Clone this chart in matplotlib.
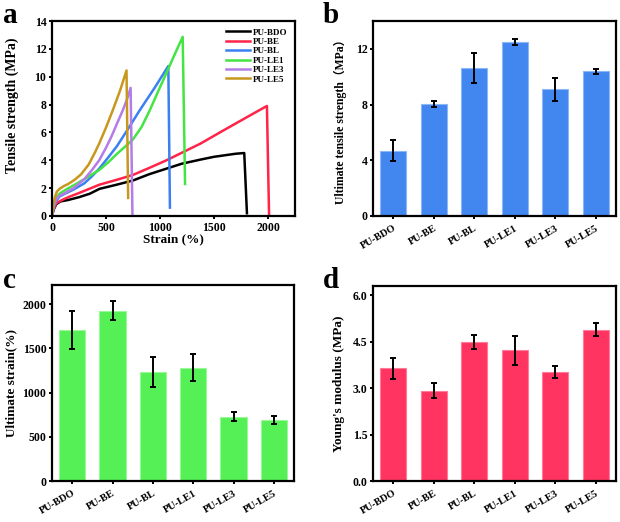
import matplotlib
matplotlib.use("Agg")
import matplotlib.pyplot as plt
import numpy as np

plt.rcParams['font.family'] = ['Liberation Serif', 'Noto Sans CJK SC']
plt.rcParams['font.weight'] = 'bold'
plt.rcParams['axes.labelweight'] = 'bold'

# Données des courbes contrainte-déformation (panneau a)
noms = ["PU-BDO", "PU-BE", "PU-BL", "PU-LE1", "PU-LE3", "PU-LE5"]
couleurs_a = ["#000000", "#FF2448", "#3A80F0", "#44E444", "#B47CE6", "#C8981E"]

strain_bdo = [0, 15, 40, 80, 150, 250, 350, 440, 600, 750, 900, 1060, 1200, 1375, 1500, 1700, 1780, 1805]
stress_bdo = [0, 0.45, 0.85, 1.05, 1.15, 1.35, 1.6, 1.95, 2.25, 2.55, 3.0, 3.4, 3.75, 4.05, 4.25, 4.47, 4.52, 0.2]
strain_be = [0, 15, 40, 80, 150, 250, 440, 600, 750, 900, 1060, 1375, 1600, 1840, 1990, 2010]
stress_be = [0, 0.5, 0.9, 1.1, 1.35, 1.65, 2.25, 2.6, 2.95, 3.45, 4.0, 5.2, 6.2, 7.25, 7.9, 0]
strain_bl = [0, 15, 40, 70, 120, 200, 300, 370, 437, 520, 600, 700, 813, 950, 1077, 1092]
stress_bl = [0, 0.6, 1.1, 1.4, 1.6, 1.9, 2.35, 2.85, 3.4, 4.2, 5.0, 6.2, 7.6, 9.2, 10.77, 0.6]
strain_le1 = [0, 15, 40, 70, 120, 200, 300, 437, 520, 600, 680, 750, 830, 906, 980, 1050, 1130, 1210, 1232]
stress_le1 = [0, 0.8, 1.3, 1.6, 1.85, 2.2, 2.65, 3.3, 3.85, 4.45, 5.0, 5.5, 6.4, 7.6, 8.9, 10.1, 11.5, 12.86, 2.3]
strain_le3 = [0, 15, 40, 70, 120, 200, 300, 370, 437, 500, 550, 600, 656, 700, 728, 745]
stress_le3 = [0, 0.7, 1.2, 1.45, 1.65, 2.0, 2.65, 3.3, 4.0, 4.9, 5.7, 6.6, 7.6, 8.5, 9.2, 0]
strain_le5 = [0, 10, 25, 45, 70, 110, 150, 210, 270, 340, 400, 437, 500, 563, 630, 690, 705]
stress_le5 = [0, 0.6, 1.3, 1.75, 1.95, 2.15, 2.3, 2.6, 3.0, 3.7, 4.6, 5.2, 6.35, 7.6, 9.0, 10.45, 1.3]

# Données des histogrammes (panneaux b, c, d)
resistance = [4.7, 8.05, 10.65, 12.5, 9.1, 10.4]
resistance_err = [0.78, 0.2, 1.07, 0.2, 0.82, 0.17]
deformation = [1705, 1925, 1235, 1282, 727, 688]
deformation_err = [218, 110, 170, 148, 48, 47]
module = [3.64, 2.92, 4.5, 4.22, 3.53, 4.89]
module_err = [0.33, 0.25, 0.23, 0.46, 0.19, 0.22]

fig = plt.figure(figsize=(6.2, 5.22), dpi=100)

def style_axes(ax):
    for s in ax.spines.values():
        s.set_linewidth(1.6)
    ax.tick_params(direction='out', width=1.4, length=2.5, pad=1.5, labelsize=8.5)
    for lab in ax.get_xticklabels() + ax.get_yticklabels():
        lab.set_fontweight('bold')

# Panneau a : courbes
ax_a = fig.add_axes([52/620, 1-216/522, 243/620, 195/522])
courbes = [(strain_bdo, stress_bdo), (strain_be, stress_be), (strain_bl, stress_bl),
           (strain_le1, stress_le1), (strain_le3, stress_le3), (strain_le5, stress_le5)]
for (x, y), nom, c in zip(courbes, noms, couleurs_a):
    ax_a.plot(x, y, color=c, lw=1.8, label=nom, solid_joinstyle='round')
ax_a.set_xlim(0, 2250)
ax_a.set_ylim(0, 14)
ax_a.set_xticks([0, 500, 1000, 1500, 2000])
ax_a.set_yticks([0, 2, 4, 6, 8, 10, 12, 14])
ax_a.set_xlabel("Strain (%)", fontsize=9.5, labelpad=0)
ax_a.set_ylabel("Tensile strength (MPa)", fontsize=10)
ax_a.yaxis.set_label_coords(-0.135, 0.57)
leg = ax_a.legend(loc='upper right', frameon=False, fontsize=6.5, handlelength=2.6,
                  labelspacing=0.12, handletextpad=0.4, borderaxespad=0.4)
for t in leg.get_texts():
    t.set_fontweight('bold')
style_axes(ax_a)

# Histogrammes
x = np.arange(len(noms))

def barres(rect, valeurs, erreurs, couleur, bord, ylim, yticks, ylabel, taille, xlab, fmt=None):
    ax = fig.add_axes(rect)
    ax.bar(x, valeurs, width=0.65, color=couleur, edgecolor=bord, linewidth=0.8)
    ax.errorbar(x, valeurs, yerr=erreurs, fmt='none', ecolor='black', elinewidth=1.4,
                capsize=2.5, capthick=1.4)
    ax.set_xlim(-0.5, 5.5)
    ax.set_ylim(*ylim)
    ax.set_yticks(yticks)
    if fmt:
        ax.set_yticklabels([fmt % v for v in yticks])
    ax.set_xticks(x)
    ax.set_xticklabels(noms, rotation=30, ha='right', rotation_mode='anchor')
    ax.set_ylabel(ylabel, fontsize=taille)
    ax.yaxis.set_label_coords(xlab, 0.5)
    style_axes(ax)
    ax.tick_params(axis='x', labelsize=7.5, pad=3)
    return ax

barres([373/620, 1-216/522, 243/620, 195/522], resistance, resistance_err, "#4286F0", "#8DB8F8",
       (0, 14), [0, 4, 8, 12], "Ultimate tensile strength（MPa）", 8.5, -0.107)
barres([52/620, 1-481/522, 242/620, 196/522], deformation, deformation_err, "#55F055", "#9AF79A",
       (0, 2215), [0, 500, 1000, 1500, 2000], "Ultimate strain(%)", 9.5, -0.145)
barres([373/620, 1-481/522, 243/620, 195/522], module, module_err, "#FF3460", "#FF7C98",
       (0, 6.3), [0.0, 1.5, 3.0, 4.5, 6.0], "Young's modulus (MPa)", 9.5, -0.115, fmt="%.1f")

# Lettres des panneaux
for lettre, px, py in [("a", 3, 23), ("b", 323, 23), ("c", 3, 288), ("d", 323, 288)]:
    fig.text(px/620, 1-py/522, lettre, fontsize=21, fontweight='bold', va='baseline')

fig.savefig("out.png", dpi=100)
